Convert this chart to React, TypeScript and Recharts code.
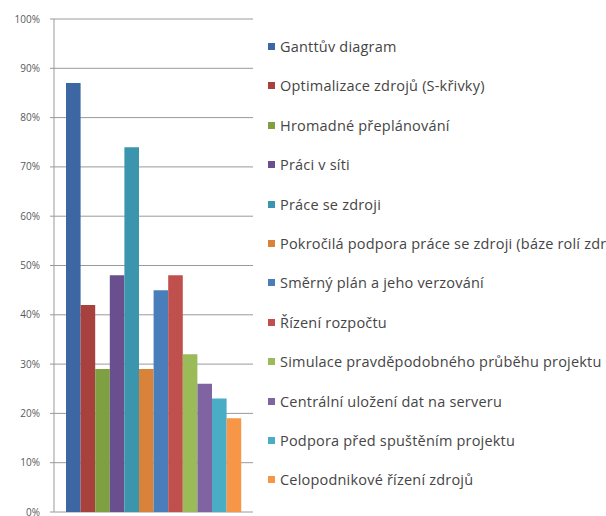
import { BarChart, Bar, XAxis, YAxis, CartesianGrid } from "recharts";

const features = [
  "Ganttův diagram",
  "Optimalizace zdrojů (S-křivky)",
  "Hromadné přeplánování",
  "Práci v síti",
  "Práce se zdroji",
  "Pokročilá podpora práce se zdroji (báze rolí zdrojů)",
  "Směrný plán a jeho verzování",
  "Řízení rozpočtu",
  "Simulace pravděpodobného průběhu projektu",
  "Centrální uložení dat na serveru",
  "Podpora před spuštěním projektu",
  "Celopodnikové řízení zdrojů",
];

const shares = [87, 42, 29, 48, 74, 29, 45, 48, 32, 26, 23, 19];

const colors = [
  "#3c67a3", "#a8403d", "#7fa040", "#6a4f8f", "#3a95ad", "#d9833a",
  "#4a7ebb", "#c0504d", "#9bbb59", "#8064a2", "#4bacc6", "#f79646",
];

const yTicks = [0, 10, 20, 30, 40, 50, 60, 70, 80, 90, 100];

const row: Record<string, number | string> = { name: "" };
features.forEach((f, i) => {
  row["s" + i] = shares[i];
});
const data = [row];

// legend is drawn as plain html next to the plot
const LegendList = () => (
  <div style={{ position: "absolute", left: 268, top: 0, width: 338, height: 516, overflow: "hidden" }}>
    {features.map((f, i) => (
      <div
        key={f}
        style={{
          position: "absolute",
          left: 0,
          top: 37 + i * 39.4,
          whiteSpace: "nowrap",
          fontFamily: "'Open Sans', sans-serif",
          fontSize: 14.5,
          letterSpacing: 0.2,
          color: "#454545",
          display: "flex",
          alignItems: "center",
        }}
      >
        <span
          style={{
            display: "inline-block",
            width: 7,
            height: 7,
            background: colors[i],
            marginRight: 5,
          }}
        />
        {f}
      </div>
    ))}
  </div>
);

export default function App() {
  return (
    <div
      style={{
        position: "absolute",
        left: 0,
        top: 0,
        width: 606,
        height: 516,
        overflow: "hidden",
        background: "#fff",
      }}
    >
      <BarChart
        width={606}
        height={516}
        data={data}
        margin={{ top: 19, right: 353, bottom: 4, left: 0 }}
        barCategoryGap={12}
        barSize={14.6}
        barGap={0}
      >
        <CartesianGrid vertical={false} stroke="#9a9a9a" />
        <XAxis dataKey="name" tick={false} tickLine={false} axisLine={{ stroke: "#9a9a9a" }} height={0} />
        <YAxis
          domain={[0, 100]}
          ticks={yTicks}
          interval={0}
          width={54}
          tickFormatter={(v) => `${v}%`}
          tick={{ fontSize: 10, fill: "#595959", fontFamily: "'Open Sans', sans-serif" }}
          tickSize={4}
          tickMargin={10}
          tickLine={{ stroke: "#9a9a9a" }}
          axisLine={{ stroke: "#9a9a9a" }}
        />
        {features.map((f, i) => (
          <Bar key={f} dataKey={"s" + i} name={f} fill={colors[i]} isAnimationActive={false} />
        ))}
      </BarChart>
      <LegendList />
    </div>
  );
}
